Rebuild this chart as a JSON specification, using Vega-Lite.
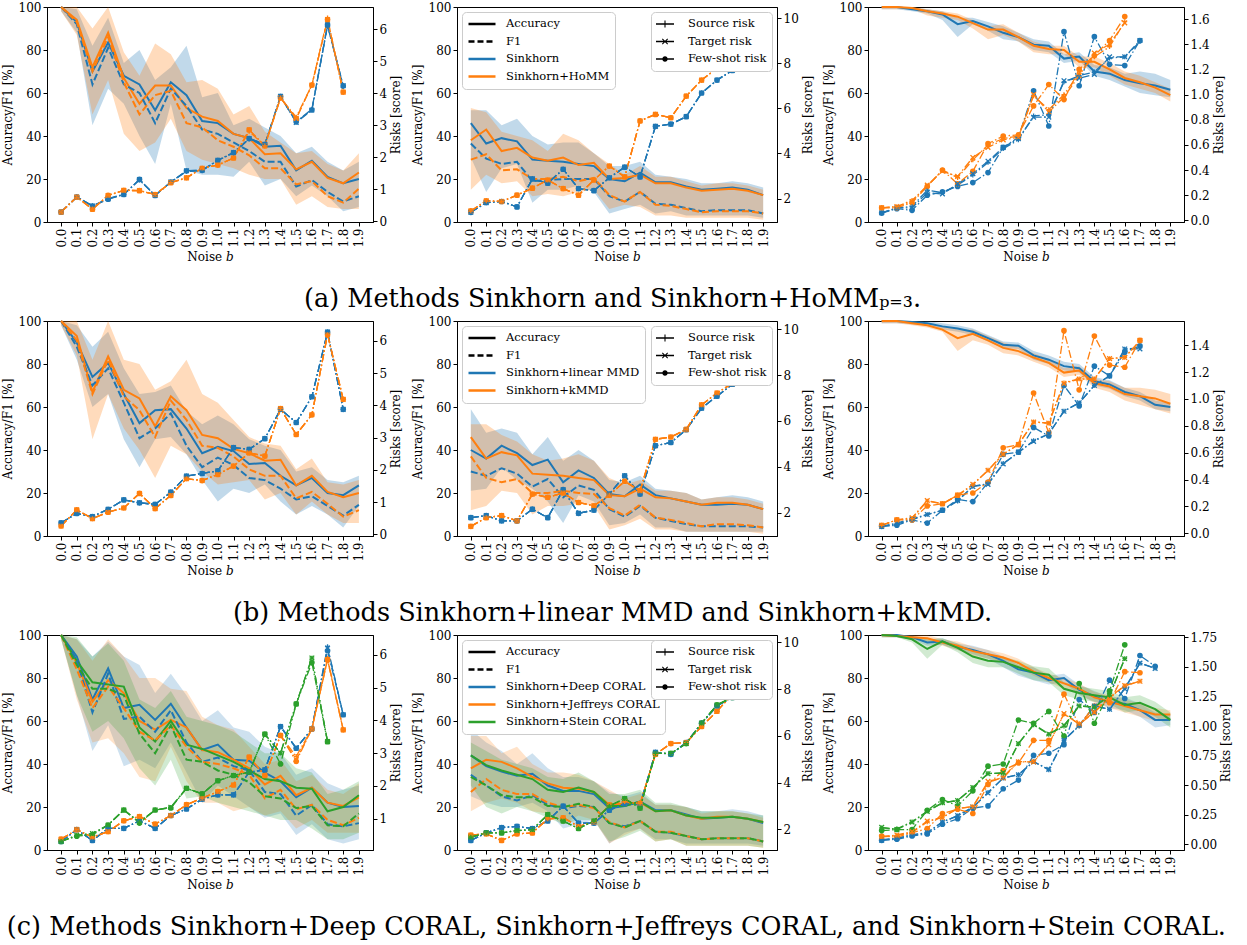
{
"$schema": "https://vega.github.io/schema/vega-lite/v6.json",
"background": "white",
"padding": {"left": 0, "top": 0, "right": 3, "bottom": 0},
"spacing": 1,
"config": {
 "font": "DejaVu Serif",
 "view": {"stroke": "black", "strokeWidth": 1},
 "axis": {"labelFont": "DejaVu Serif", "titleFont": "DejaVu Serif", "labelFontSize": 12, "titleFontSize": 12, "titleFontWeight": "normal", "labelColor": "black", "titleColor": "black", "tickColor": "black", "domainColor": "black", "tickSize": 4, "grid": false, "labelPadding": 2, "titlePadding": 4, "labelFlush": false},
 "title": {"font": "DejaVu Serif", "fontSize": 25.5, "fontWeight": "normal", "color": "black"},
 "legend": {"labelFont": "DejaVu Serif", "labelFontSize": 11.5, "labelColor": "black", "labelLimit": 300}
},
"datasets": {
"a1": [
{"m":"S","b":0,"acc":100,"lo":98,"hi":100,"f1":100,"src":0.28,"tgt":0.28,"few":0.28},
{"m":"S","b":0.1,"acc":93,"lo":88,"hi":99,"f1":92,"src":0.76,"tgt":0.75,"few":0.75},
{"m":"S","b":0.2,"acc":70,"lo":45,"hi":82,"f1":64,"src":0.48,"tgt":0.47,"few":0.47},
{"m":"S","b":0.3,"acc":83.5,"lo":62,"hi":95,"f1":81,"src":0.7,"tgt":0.69,"few":0.68},
{"m":"S","b":0.4,"acc":68,"lo":55,"hi":74,"f1":64,"src":0.84,"tgt":0.83,"few":0.83},
{"m":"S","b":0.5,"acc":64,"lo":40,"hi":80,"f1":60,"src":1.28,"tgt":1.3,"few":1.3},
{"m":"S","b":0.6,"acc":52,"lo":27,"hi":66,"f1":46,"src":0.8,"tgt":0.8,"few":0.8},
{"m":"S","b":0.7,"acc":65,"lo":55,"hi":72,"f1":62,"src":1.22,"tgt":1.22,"few":1.22},
{"m":"S","b":0.8,"acc":59,"lo":24,"hi":82,"f1":54,"src":1.55,"tgt":1.57,"few":1.57},
{"m":"S","b":0.9,"acc":47,"lo":22,"hi":58,"f1":43,"src":1.57,"tgt":1.59,"few":1.59},
{"m":"S","b":1.0,"acc":46,"lo":22,"hi":60,"f1":41,"src":1.9,"tgt":1.9,"few":1.9},
{"m":"S","b":1.1,"acc":41,"lo":21,"hi":45,"f1":37,"src":2.12,"tgt":2.14,"few":2.14},
{"m":"S","b":1.2,"acc":39,"lo":28,"hi":48,"f1":33,"src":2.56,"tgt":2.58,"few":2.58},
{"m":"S","b":1.3,"acc":35,"lo":17,"hi":44,"f1":28,"src":2.4,"tgt":2.4,"few":2.4},
{"m":"S","b":1.4,"acc":35.5,"lo":20,"hi":40,"f1":28,"src":3.88,"tgt":3.9,"few":3.9},
{"m":"S","b":1.5,"acc":24,"lo":12,"hi":32,"f1":16.5,"src":3.1,"tgt":3.08,"few":3.1},
{"m":"S","b":1.6,"acc":28.5,"lo":17,"hi":35,"f1":19.5,"src":3.5,"tgt":3.47,"few":3.47},
{"m":"S","b":1.7,"acc":21,"lo":12,"hi":28,"f1":14,"src":6.1,"tgt":6.13,"few":6.13},
{"m":"S","b":1.8,"acc":18,"lo":5,"hi":24,"f1":9.5,"src":4.2,"tgt":4.23,"few":4.23},
{"m":"S","b":1.9,"acc":20,"lo":7,"hi":28,"f1":12,"src":null,"tgt":null,"few":null},
{"m":"H","b":0,"acc":100,"lo":98,"hi":100,"f1":100,"src":0.28,"tgt":0.28,"few":0.28},
{"m":"H","b":0.1,"acc":94,"lo":87,"hi":100,"f1":93,"src":0.75,"tgt":0.75,"few":0.75},
{"m":"H","b":0.2,"acc":72,"lo":50,"hi":90,"f1":70,"src":0.38,"tgt":0.37,"few":0.37},
{"m":"H","b":0.3,"acc":88,"lo":66,"hi":100,"f1":86,"src":0.8,"tgt":0.8,"few":0.8},
{"m":"H","b":0.4,"acc":67,"lo":41,"hi":79,"f1":65,"src":0.96,"tgt":0.96,"few":0.96},
{"m":"H","b":0.5,"acc":55,"lo":33,"hi":68,"f1":50,"src":0.95,"tgt":0.95,"few":0.95},
{"m":"H","b":0.6,"acc":63.5,"lo":37,"hi":83,"f1":59,"src":0.83,"tgt":0.83,"few":0.83},
{"m":"H","b":0.7,"acc":63.5,"lo":48,"hi":78,"f1":61,"src":1.2,"tgt":1.2,"few":1.2},
{"m":"H","b":0.8,"acc":53,"lo":33,"hi":65,"f1":46,"src":1.36,"tgt":1.35,"few":1.35},
{"m":"H","b":0.9,"acc":49,"lo":29,"hi":66,"f1":44,"src":1.65,"tgt":1.65,"few":1.65},
{"m":"H","b":1.0,"acc":47,"lo":27,"hi":62,"f1":38,"src":1.75,"tgt":1.75,"few":1.75},
{"m":"H","b":1.1,"acc":41,"lo":25,"hi":50,"f1":35,"src":1.97,"tgt":1.97,"few":1.97},
{"m":"H","b":1.2,"acc":39,"lo":22,"hi":54,"f1":31,"src":2.8,"tgt":2.85,"few":2.85},
{"m":"H","b":1.3,"acc":31.5,"lo":20,"hi":42,"f1":25,"src":2.35,"tgt":2.35,"few":2.35},
{"m":"H","b":1.4,"acc":32,"lo":20,"hi":37,"f1":25,"src":3.85,"tgt":3.85,"few":3.85},
{"m":"H","b":1.5,"acc":24.5,"lo":8,"hi":32,"f1":17.5,"src":3.25,"tgt":3.2,"few":3.2},
{"m":"H","b":1.6,"acc":28,"lo":12,"hi":33,"f1":19,"src":4.25,"tgt":4.25,"few":4.25},
{"m":"H","b":1.7,"acc":20.5,"lo":7,"hi":27,"f1":12,"src":6.35,"tgt":6.3,"few":6.3},
{"m":"H","b":1.8,"acc":18,"lo":6,"hi":24,"f1":9,"src":4.03,"tgt":4.03,"few":4.03},
{"m":"H","b":1.9,"acc":23,"lo":6,"hi":32,"f1":15.5,"src":null,"tgt":null,"few":null}
],
"a2": [
{"m":"S","b":0,"acc":46,"lo":30,"hi":52,"f1":36.5,"src":1.39,"tgt":1.39,"few":1.39},
{"m":"S","b":0.1,"acc":36.5,"lo":14,"hi":52,"f1":29.5,"src":1.82,"tgt":1.82,"few":1.82},
{"m":"S","b":0.2,"acc":39,"lo":25,"hi":45,"f1":27,"src":1.87,"tgt":1.87,"few":1.87},
{"m":"S","b":0.3,"acc":37.5,"lo":27,"hi":48,"f1":28,"src":1.63,"tgt":1.63,"few":1.63},
{"m":"S","b":0.4,"acc":29,"lo":9,"hi":40,"f1":19,"src":2.87,"tgt":2.87,"few":2.87},
{"m":"S","b":0.5,"acc":28.5,"lo":15,"hi":36,"f1":19.5,"src":2.68,"tgt":2.68,"few":2.68},
{"m":"S","b":0.6,"acc":28,"lo":15,"hi":37,"f1":20,"src":3.3,"tgt":3.3,"few":3.3},
{"m":"S","b":0.7,"acc":27,"lo":17,"hi":37,"f1":20,"src":2.44,"tgt":2.44,"few":2.44},
{"m":"S","b":0.8,"acc":26,"lo":14,"hi":32,"f1":20,"src":2.35,"tgt":2.35,"few":2.35},
{"m":"S","b":0.9,"acc":20,"lo":4,"hi":26,"f1":12,"src":2.92,"tgt":2.92,"few":2.92},
{"m":"S","b":1.0,"acc":19,"lo":6,"hi":26,"f1":9.5,"src":3.39,"tgt":3.39,"few":3.39},
{"m":"S","b":1.1,"acc":23,"lo":8,"hi":28,"f1":14,"src":2.96,"tgt":2.96,"few":2.96},
{"m":"S","b":1.2,"acc":18.5,"lo":4,"hi":22,"f1":8.5,"src":5.2,"tgt":5.2,"few":5.2},
{"m":"S","b":1.3,"acc":18.5,"lo":5,"hi":21,"f1":8,"src":5.3,"tgt":5.3,"few":5.3},
{"m":"S","b":1.4,"acc":16.5,"lo":3,"hi":20,"f1":6.5,"src":5.63,"tgt":5.63,"few":5.63},
{"m":"S","b":1.5,"acc":15,"lo":3,"hi":18,"f1":5,"src":6.68,"tgt":6.68,"few":6.68},
{"m":"S","b":1.6,"acc":15.5,"lo":3,"hi":18,"f1":5.5,"src":7.25,"tgt":7.25,"few":7.25},
{"m":"S","b":1.7,"acc":16,"lo":3,"hi":19,"f1":5.5,"src":7.68,"tgt":7.68,"few":7.68},
{"m":"S","b":1.8,"acc":15,"lo":3,"hi":18,"f1":5.5,"src":7.97,"tgt":7.97,"few":7.97},
{"m":"S","b":1.9,"acc":12.5,"lo":2,"hi":16,"f1":4,"src":10.02,"tgt":10.02,"few":10.02},
{"m":"H","b":0,"acc":38,"lo":15,"hi":53,"f1":29,"src":1.45,"tgt":1.45,"few":1.45},
{"m":"H","b":0.1,"acc":43,"lo":22,"hi":51,"f1":31.5,"src":1.9,"tgt":1.9,"few":1.9},
{"m":"H","b":0.2,"acc":33,"lo":18,"hi":42,"f1":24,"src":1.87,"tgt":1.87,"few":1.87},
{"m":"H","b":0.3,"acc":34.5,"lo":19,"hi":40,"f1":24.5,"src":2.15,"tgt":2.15,"few":2.15},
{"m":"H","b":0.4,"acc":30,"lo":12,"hi":38,"f1":20,"src":2.46,"tgt":2.46,"few":2.46},
{"m":"H","b":0.5,"acc":28.5,"lo":13,"hi":33,"f1":20,"src":2.82,"tgt":2.82,"few":2.82},
{"m":"H","b":0.6,"acc":30,"lo":12,"hi":41,"f1":21,"src":2.44,"tgt":2.44,"few":2.44},
{"m":"H","b":0.7,"acc":26.5,"lo":14,"hi":38,"f1":19,"src":2.15,"tgt":2.15,"few":2.15},
{"m":"H","b":0.8,"acc":27.5,"lo":15,"hi":32,"f1":20.5,"src":2.82,"tgt":2.82,"few":2.82},
{"m":"H","b":0.9,"acc":20,"lo":6,"hi":27,"f1":12.5,"src":3.44,"tgt":3.44,"few":3.44},
{"m":"H","b":1.0,"acc":20.5,"lo":8,"hi":22,"f1":9.5,"src":2.96,"tgt":2.96,"few":2.96},
{"m":"H","b":1.1,"acc":22,"lo":7,"hi":26,"f1":14,"src":5.44,"tgt":5.44,"few":5.44},
{"m":"H","b":1.2,"acc":18,"lo":3,"hi":21,"f1":8,"src":5.73,"tgt":5.73,"few":5.73},
{"m":"H","b":1.3,"acc":18,"lo":3,"hi":21,"f1":7.5,"src":5.58,"tgt":5.58,"few":5.58},
{"m":"H","b":1.4,"acc":16,"lo":2,"hi":19,"f1":6,"src":6.54,"tgt":6.54,"few":6.54},
{"m":"H","b":1.5,"acc":14.5,"lo":2,"hi":17,"f1":4.5,"src":7.25,"tgt":7.25,"few":7.25},
{"m":"H","b":1.6,"acc":15,"lo":2,"hi":18,"f1":5,"src":7.78,"tgt":7.78,"few":7.78},
{"m":"H","b":1.7,"acc":15.5,"lo":2,"hi":18,"f1":5,"src":8.0,"tgt":8.0,"few":8.0},
{"m":"H","b":1.8,"acc":14.5,"lo":2,"hi":17,"f1":5,"src":10.11,"tgt":10.11,"few":10.11},
{"m":"H","b":1.9,"acc":12.5,"lo":1,"hi":15,"f1":4,"src":null,"tgt":null,"few":null}
],
"a3": [
{"m":"S","b":0,"acc":100,"lo":99,"hi":100,"src":0.06,"tgt":0.06,"few":0.058},
{"m":"S","b":0.1,"acc":100,"lo":99,"hi":100,"src":0.1,"tgt":0.1,"few":0.093},
{"m":"S","b":0.2,"acc":99,"lo":98,"hi":100,"src":0.11,"tgt":0.1,"few":0.08},
{"m":"S","b":0.3,"acc":98,"lo":97,"hi":99,"src":0.24,"tgt":0.22,"few":0.2},
{"m":"S","b":0.4,"acc":96.5,"lo":94,"hi":98,"src":0.22,"tgt":0.21,"few":0.226},
{"m":"S","b":0.5,"acc":92,"lo":86,"hi":95,"src":0.28,"tgt":0.29,"few":0.27},
{"m":"S","b":0.6,"acc":93.5,"lo":92,"hi":95,"src":0.36,"tgt":0.37,"few":0.3},
{"m":"S","b":0.7,"acc":91,"lo":89,"hi":93,"src":0.46,"tgt":0.47,"few":0.38},
{"m":"S","b":0.8,"acc":88,"lo":85,"hi":91,"src":0.57,"tgt":0.58,"few":0.58},
{"m":"S","b":0.9,"acc":86,"lo":84,"hi":88,"src":0.64,"tgt":0.65,"few":0.66},
{"m":"S","b":1.0,"acc":82.5,"lo":80,"hi":85,"src":0.83,"tgt":0.82,"few":1.03},
{"m":"S","b":1.1,"acc":82,"lo":79,"hi":84,"src":0.84,"tgt":0.82,"few":0.75},
{"m":"S","b":1.2,"acc":76,"lo":74,"hi":78,"src":1.1,"tgt":1.11,"few":1.5},
{"m":"S","b":1.3,"acc":77,"lo":75,"hi":79,"src":1.15,"tgt":1.13,"few":1.07},
{"m":"S","b":1.4,"acc":70,"lo":68,"hi":73,"src":1.18,"tgt":1.16,"few":1.46},
{"m":"S","b":1.5,"acc":69,"lo":66,"hi":72,"src":1.29,"tgt":1.3,"few":1.24},
{"m":"S","b":1.6,"acc":66,"lo":63,"hi":69,"src":1.3,"tgt":1.3,"few":1.23},
{"m":"S","b":1.7,"acc":64.5,"lo":60,"hi":70,"src":1.42,"tgt":1.43,"few":1.43},
{"m":"S","b":1.8,"acc":63.5,"lo":59,"hi":69,"src":null,"tgt":null,"few":null},
{"m":"S","b":1.9,"acc":61.5,"lo":58,"hi":66,"src":null,"tgt":null,"few":null},
{"m":"H","b":0,"acc":100,"lo":99,"hi":100,"src":0.1,"tgt":0.1,"few":0.1},
{"m":"H","b":0.1,"acc":100,"lo":99,"hi":100,"src":0.11,"tgt":0.11,"few":0.1},
{"m":"H","b":0.2,"acc":99.5,"lo":99,"hi":100,"src":0.16,"tgt":0.15,"few":0.14},
{"m":"H","b":0.3,"acc":98,"lo":96,"hi":99,"src":0.27,"tgt":0.28,"few":0.27},
{"m":"H","b":0.4,"acc":97,"lo":95,"hi":98,"src":0.4,"tgt":0.39,"few":0.4},
{"m":"H","b":0.5,"acc":95.5,"lo":94,"hi":97,"src":0.34,"tgt":0.35,"few":0.29},
{"m":"H","b":0.6,"acc":92.5,"lo":90,"hi":94,"src":0.48,"tgt":0.5,"few":0.39},
{"m":"H","b":0.7,"acc":89.5,"lo":85,"hi":91,"src":0.6,"tgt":0.58,"few":0.61},
{"m":"H","b":0.8,"acc":89.5,"lo":87,"hi":92,"src":0.65,"tgt":0.64,"few":0.67},
{"m":"H","b":0.9,"acc":86,"lo":84,"hi":88,"src":0.67,"tgt":0.66,"few":0.68},
{"m":"H","b":1.0,"acc":82,"lo":79,"hi":84,"src":0.99,"tgt":1.0,"few":0.91},
{"m":"H","b":1.1,"acc":80.5,"lo":78,"hi":82,"src":0.88,"tgt":0.86,"few":1.08},
{"m":"H","b":1.2,"acc":80,"lo":78,"hi":82,"src":1.0,"tgt":0.98,"few":0.96},
{"m":"H","b":1.3,"acc":74.5,"lo":72,"hi":77,"src":1.17,"tgt":1.15,"few":1.2},
{"m":"H","b":1.4,"acc":74.5,"lo":72,"hi":77,"src":1.3,"tgt":1.33,"few":1.31},
{"m":"H","b":1.5,"acc":71,"lo":68,"hi":74,"src":1.38,"tgt":1.4,"few":1.43},
{"m":"H","b":1.6,"acc":67,"lo":64,"hi":70,"src":1.58,"tgt":1.57,"few":1.62},
{"m":"H","b":1.7,"acc":65,"lo":62,"hi":68,"src":null,"tgt":null,"few":null},
{"m":"H","b":1.8,"acc":62.5,"lo":60,"hi":65,"src":null,"tgt":null,"few":null},
{"m":"H","b":1.9,"acc":59,"lo":56,"hi":62,"src":null,"tgt":null,"few":null}
],
"b1": [
{"m":"L","b":0,"acc":100,"lo":98,"hi":100,"f1":100,"src":0.36,"tgt":0.36,"few":0.36},
{"m":"L","b":0.1,"acc":90,"lo":82,"hi":98,"f1":88,"src":0.65,"tgt":0.65,"few":0.65},
{"m":"L","b":0.2,"acc":74,"lo":60,"hi":88,"f1":70,"src":0.55,"tgt":0.55,"few":0.55},
{"m":"L","b":0.3,"acc":80.5,"lo":66,"hi":95,"f1":78,"src":0.78,"tgt":0.78,"few":0.78},
{"m":"L","b":0.4,"acc":66,"lo":45,"hi":78,"f1":62,"src":1.07,"tgt":1.07,"few":1.07},
{"m":"L","b":0.5,"acc":52.5,"lo":32,"hi":66,"f1":45.5,"src":0.98,"tgt":0.98,"few":0.98},
{"m":"L","b":0.6,"acc":58.5,"lo":45,"hi":67,"f1":50,"src":0.93,"tgt":0.93,"few":0.93},
{"m":"L","b":0.7,"acc":59,"lo":46,"hi":70,"f1":57,"src":1.31,"tgt":1.31,"few":1.31},
{"m":"L","b":0.8,"acc":50,"lo":38,"hi":58,"f1":42,"src":1.81,"tgt":1.81,"few":1.81},
{"m":"L","b":0.9,"acc":38.5,"lo":26,"hi":52,"f1":32,"src":1.89,"tgt":1.89,"few":1.89},
{"m":"L","b":1.0,"acc":41.5,"lo":16,"hi":56,"f1":36.5,"src":1.97,"tgt":1.97,"few":1.97},
{"m":"L","b":1.1,"acc":39.5,"lo":22,"hi":52,"f1":33,"src":2.69,"tgt":2.69,"few":2.69},
{"m":"L","b":1.2,"acc":33.5,"lo":20,"hi":45,"f1":27,"src":2.64,"tgt":2.64,"few":2.64},
{"m":"L","b":1.3,"acc":34,"lo":24,"hi":42,"f1":26,"src":2.97,"tgt":2.97,"few":2.97},
{"m":"L","b":1.4,"acc":28,"lo":16,"hi":40,"f1":22,"src":3.88,"tgt":3.88,"few":3.88},
{"m":"L","b":1.5,"acc":23.5,"lo":10,"hi":30,"f1":17,"src":3.47,"tgt":3.47,"few":3.47},
{"m":"L","b":1.6,"acc":27,"lo":14,"hi":32,"f1":18.5,"src":4.27,"tgt":4.27,"few":4.27},
{"m":"L","b":1.7,"acc":20,"lo":10,"hi":26,"f1":14,"src":6.28,"tgt":6.28,"few":6.28},
{"m":"L","b":1.8,"acc":19,"lo":4,"hi":25,"f1":9.5,"src":3.88,"tgt":3.88,"few":3.88},
{"m":"L","b":1.9,"acc":23.5,"lo":14,"hi":28,"f1":14.5,"src":null,"tgt":null,"few":null},
{"m":"K","b":0,"acc":100,"lo":98,"hi":100,"f1":100,"src":0.26,"tgt":0.26,"few":0.26},
{"m":"K","b":0.1,"acc":93,"lo":84,"hi":100,"f1":91,"src":0.76,"tgt":0.76,"few":0.76},
{"m":"K","b":0.2,"acc":67,"lo":45,"hi":82,"f1":66,"src":0.49,"tgt":0.49,"few":0.49},
{"m":"K","b":0.3,"acc":83.5,"lo":66,"hi":100,"f1":82,"src":0.69,"tgt":0.69,"few":0.69},
{"m":"K","b":0.4,"acc":68,"lo":50,"hi":82,"f1":65,"src":0.82,"tgt":0.82,"few":0.82},
{"m":"K","b":0.5,"acc":64,"lo":40,"hi":80,"f1":58.5,"src":1.27,"tgt":1.27,"few":1.27},
{"m":"K","b":0.6,"acc":51,"lo":27,"hi":68,"f1":46,"src":0.8,"tgt":0.8,"few":0.8},
{"m":"K","b":0.7,"acc":65,"lo":42,"hi":72,"f1":63,"src":1.21,"tgt":1.21,"few":1.21},
{"m":"K","b":0.8,"acc":58.5,"lo":38,"hi":82,"f1":54,"src":1.73,"tgt":1.73,"few":1.73},
{"m":"K","b":0.9,"acc":47,"lo":30,"hi":66,"f1":42,"src":1.67,"tgt":1.67,"few":1.67},
{"m":"K","b":1.0,"acc":45.5,"lo":24,"hi":62,"f1":41,"src":1.86,"tgt":1.86,"few":1.86},
{"m":"K","b":1.1,"acc":40.5,"lo":25,"hi":54,"f1":37,"src":2.12,"tgt":2.12,"few":2.12},
{"m":"K","b":1.2,"acc":38.5,"lo":26,"hi":46,"f1":31,"src":2.53,"tgt":2.53,"few":2.53},
{"m":"K","b":1.3,"acc":35,"lo":17,"hi":43,"f1":28,"src":2.43,"tgt":2.43,"few":2.43},
{"m":"K","b":1.4,"acc":35.5,"lo":20,"hi":42,"f1":28,"src":3.9,"tgt":3.9,"few":3.9},
{"m":"K","b":1.5,"acc":23.5,"lo":10,"hi":31,"f1":17.5,"src":3.1,"tgt":3.1,"few":3.1},
{"m":"K","b":1.6,"acc":28,"lo":16,"hi":36,"f1":20.5,"src":3.71,"tgt":3.71,"few":3.71},
{"m":"K","b":1.7,"acc":20.5,"lo":10,"hi":25,"f1":15,"src":6.2,"tgt":6.2,"few":6.2},
{"m":"K","b":1.8,"acc":18,"lo":6,"hi":24,"f1":9,"src":4.19,"tgt":4.19,"few":4.19},
{"m":"K","b":1.9,"acc":20,"lo":6,"hi":26,"f1":12,"src":null,"tgt":null,"few":null}
],
"b2": [
{"m":"L","b":0,"acc":40,"lo":21,"hi":59,"f1":30,"src":1.78,"tgt":1.78,"few":1.78},
{"m":"L","b":0.1,"acc":36,"lo":22,"hi":48,"f1":28,"src":1.87,"tgt":1.87,"few":1.87},
{"m":"L","b":0.2,"acc":42,"lo":32,"hi":50,"f1":31.5,"src":1.64,"tgt":1.64,"few":1.64},
{"m":"L","b":0.3,"acc":38.5,"lo":26,"hi":48,"f1":29,"src":1.64,"tgt":1.64,"few":1.64},
{"m":"L","b":0.4,"acc":33,"lo":22,"hi":38,"f1":23,"src":2.15,"tgt":2.15,"few":2.15},
{"m":"L","b":0.5,"acc":35.5,"lo":16,"hi":46,"f1":26.5,"src":1.78,"tgt":1.78,"few":1.78},
{"m":"L","b":0.6,"acc":25,"lo":6,"hi":35,"f1":18,"src":3.0,"tgt":3.0,"few":3.0},
{"m":"L","b":0.7,"acc":30.5,"lo":19,"hi":40,"f1":23.5,"src":1.97,"tgt":1.97,"few":1.97},
{"m":"L","b":0.8,"acc":27,"lo":16,"hi":35,"f1":21.5,"src":2.11,"tgt":2.11,"few":2.11},
{"m":"L","b":0.9,"acc":19.5,"lo":5,"hi":26,"f1":12.5,"src":2.81,"tgt":2.81,"few":2.81},
{"m":"L","b":1.0,"acc":18.5,"lo":6,"hi":25,"f1":9,"src":3.61,"tgt":3.61,"few":3.61},
{"m":"L","b":1.1,"acc":24,"lo":10,"hi":28,"f1":14,"src":2.81,"tgt":2.81,"few":2.81},
{"m":"L","b":1.2,"acc":19,"lo":4,"hi":22,"f1":8.5,"src":4.92,"tgt":4.92,"few":4.92},
{"m":"L","b":1.3,"acc":17.5,"lo":4,"hi":21,"f1":7,"src":5.06,"tgt":5.06,"few":5.06},
{"m":"L","b":1.4,"acc":16,"lo":2,"hi":20,"f1":5.5,"src":5.62,"tgt":5.62,"few":5.62},
{"m":"L","b":1.5,"acc":14.5,"lo":2,"hi":17,"f1":4.5,"src":6.56,"tgt":6.56,"few":6.56},
{"m":"L","b":1.6,"acc":14.5,"lo":2,"hi":18,"f1":4.5,"src":7.08,"tgt":7.08,"few":7.08},
{"m":"L","b":1.7,"acc":15,"lo":2,"hi":19,"f1":4.5,"src":7.6,"tgt":7.6,"few":7.6},
{"m":"L","b":1.8,"acc":14.5,"lo":2,"hi":18,"f1":4.5,"src":8.02,"tgt":8.02,"few":8.02},
{"m":"L","b":1.9,"acc":12.5,"lo":2,"hi":16,"f1":4,"src":9.47,"tgt":9.47,"few":9.47},
{"m":"K","b":0,"acc":46,"lo":12,"hi":52,"f1":37,"src":1.4,"tgt":1.4,"few":1.4},
{"m":"K","b":0.1,"acc":36,"lo":14,"hi":52,"f1":27,"src":1.78,"tgt":1.78,"few":1.78},
{"m":"K","b":0.2,"acc":39,"lo":21,"hi":47,"f1":25,"src":1.87,"tgt":1.87,"few":1.87},
{"m":"K","b":0.3,"acc":37.5,"lo":20,"hi":44,"f1":26.5,"src":1.64,"tgt":1.64,"few":1.64},
{"m":"K","b":0.4,"acc":29,"lo":10,"hi":38,"f1":20,"src":2.81,"tgt":2.81,"few":2.81},
{"m":"K","b":0.5,"acc":28.5,"lo":14,"hi":35,"f1":20,"src":2.67,"tgt":2.67,"few":2.67},
{"m":"K","b":0.6,"acc":28,"lo":14,"hi":36,"f1":21,"src":2.86,"tgt":2.86,"few":2.86},
{"m":"K","b":0.7,"acc":27,"lo":15,"hi":38,"f1":20,"src":2.44,"tgt":2.44,"few":2.44},
{"m":"K","b":0.8,"acc":26,"lo":14,"hi":35,"f1":19.5,"src":2.3,"tgt":2.3,"few":2.3},
{"m":"K","b":0.9,"acc":19,"lo":3,"hi":27,"f1":13,"src":2.76,"tgt":2.76,"few":2.76},
{"m":"K","b":1.0,"acc":18.5,"lo":5,"hi":24,"f1":9.5,"src":3.37,"tgt":3.37,"few":3.37},
{"m":"K","b":1.1,"acc":22,"lo":8,"hi":26,"f1":14.5,"src":2.95,"tgt":2.95,"few":2.95},
{"m":"K","b":1.2,"acc":18,"lo":3,"hi":21,"f1":8.5,"src":5.2,"tgt":5.2,"few":5.2},
{"m":"K","b":1.3,"acc":17.5,"lo":3,"hi":21,"f1":7.5,"src":5.3,"tgt":5.3,"few":5.3},
{"m":"K","b":1.4,"acc":16,"lo":2,"hi":20,"f1":6,"src":5.63,"tgt":5.63,"few":5.63},
{"m":"K","b":1.5,"acc":14.5,"lo":2,"hi":17,"f1":4.5,"src":6.7,"tgt":6.7,"few":6.7},
{"m":"K","b":1.6,"acc":15.5,"lo":2,"hi":18,"f1":5.5,"src":7.22,"tgt":7.22,"few":7.22},
{"m":"K","b":1.7,"acc":15.5,"lo":2,"hi":18,"f1":5.5,"src":7.64,"tgt":7.64,"few":7.64},
{"m":"K","b":1.8,"acc":14.5,"lo":2,"hi":17,"f1":5,"src":7.92,"tgt":7.92,"few":7.92},
{"m":"K","b":1.9,"acc":12.5,"lo":1,"hi":15,"f1":4,"src":9.94,"tgt":9.94,"few":9.94}
],
"b3": [
{"m":"L","b":0,"acc":100,"lo":99,"hi":100,"src":0.05,"tgt":0.052,"few":0.052},
{"m":"L","b":0.1,"acc":100,"lo":99,"hi":100,"src":0.07,"tgt":0.076,"few":0.06},
{"m":"L","b":0.2,"acc":99.5,"lo":98.5,"hi":100,"src":0.1,"tgt":0.108,"few":0.1},
{"m":"L","b":0.3,"acc":99,"lo":98,"hi":100,"src":0.14,"tgt":0.14,"few":0.076},
{"m":"L","b":0.4,"acc":97.5,"lo":96,"hi":99,"src":0.17,"tgt":0.172,"few":0.172},
{"m":"L","b":0.5,"acc":96.5,"lo":95,"hi":98,"src":0.24,"tgt":0.244,"few":0.252},
{"m":"L","b":0.6,"acc":95,"lo":93.5,"hi":96.5,"src":0.35,"tgt":0.348,"few":0.236},
{"m":"L","b":0.7,"acc":92,"lo":90.5,"hi":93.5,"src":0.37,"tgt":0.364,"few":0.38},
{"m":"L","b":0.8,"acc":89,"lo":87.5,"hi":90.5,"src":0.52,"tgt":0.516,"few":0.588},
{"m":"L","b":0.9,"acc":88.5,"lo":87,"hi":90,"src":0.6,"tgt":0.604,"few":0.604},
{"m":"L","b":1.0,"acc":84,"lo":82,"hi":86,"src":0.69,"tgt":0.684,"few":0.788},
{"m":"L","b":1.1,"acc":82,"lo":80,"hi":84,"src":0.74,"tgt":0.74,"few":0.724},
{"m":"L","b":1.2,"acc":79,"lo":77,"hi":81,"src":0.91,"tgt":0.908,"few":1.1},
{"m":"L","b":1.3,"acc":78,"lo":76,"hi":80,"src":0.97,"tgt":0.972,"few":0.948},
{"m":"L","b":1.4,"acc":72,"lo":70,"hi":74,"src":1.1,"tgt":1.1,"few":1.244},
{"m":"L","b":1.5,"acc":70.5,"lo":68.5,"hi":72.5,"src":1.17,"tgt":1.172,"few":1.172},
{"m":"L","b":1.6,"acc":67,"lo":65,"hi":69,"src":1.37,"tgt":1.372,"few":1.348},
{"m":"L","b":1.7,"acc":65,"lo":63,"hi":67,"src":1.38,"tgt":1.372,"few":1.396},
{"m":"L","b":1.8,"acc":61,"lo":59,"hi":63,"src":null,"tgt":null,"few":null},
{"m":"L","b":1.9,"acc":60,"lo":58,"hi":62,"src":null,"tgt":null,"few":null},
{"m":"K","b":0,"acc":100,"lo":99,"hi":100,"src":0.06,"tgt":0.06,"few":0.06},
{"m":"K","b":0.1,"acc":100,"lo":99,"hi":100,"src":0.1,"tgt":0.1,"few":0.1},
{"m":"K","b":0.2,"acc":99,"lo":98,"hi":100,"src":0.11,"tgt":0.116,"few":0.1},
{"m":"K","b":0.3,"acc":98,"lo":97,"hi":99,"src":0.24,"tgt":0.244,"few":0.204},
{"m":"K","b":0.4,"acc":96,"lo":95,"hi":97.5,"src":0.22,"tgt":0.22,"few":0.22},
{"m":"K","b":0.5,"acc":92,"lo":86,"hi":96,"src":0.28,"tgt":0.284,"few":0.284},
{"m":"K","b":0.6,"acc":94,"lo":91,"hi":96,"src":0.36,"tgt":0.364,"few":0.3},
{"m":"K","b":0.7,"acc":91,"lo":89,"hi":93,"src":0.47,"tgt":0.468,"few":0.38},
{"m":"K","b":0.8,"acc":87.5,"lo":85,"hi":90,"src":0.59,"tgt":0.588,"few":0.636},
{"m":"K","b":0.9,"acc":86,"lo":84,"hi":88,"src":0.66,"tgt":0.66,"few":0.66},
{"m":"K","b":1.0,"acc":83,"lo":81,"hi":85,"src":0.83,"tgt":0.828,"few":1.044},
{"m":"K","b":1.1,"acc":80.5,"lo":78.5,"hi":82.5,"src":0.82,"tgt":0.82,"few":0.748},
{"m":"K","b":1.2,"acc":76,"lo":74,"hi":78,"src":1.12,"tgt":1.116,"few":1.508},
{"m":"K","b":1.3,"acc":77,"lo":75,"hi":79,"src":1.15,"tgt":1.148,"few":1.068},
{"m":"K","b":1.4,"acc":71,"lo":69,"hi":73,"src":1.15,"tgt":1.148,"few":1.468},
{"m":"K","b":1.5,"acc":69.5,"lo":67,"hi":72,"src":1.3,"tgt":1.3,"few":1.252},
{"m":"K","b":1.6,"acc":66,"lo":63,"hi":69,"src":1.31,"tgt":1.308,"few":1.236},
{"m":"K","b":1.7,"acc":65,"lo":61,"hi":69,"src":1.43,"tgt":1.436,"few":1.436},
{"m":"K","b":1.8,"acc":64,"lo":59,"hi":68,"src":null,"tgt":null,"few":null},
{"m":"K","b":1.9,"acc":61.5,"lo":57,"hi":66,"src":null,"tgt":null,"few":null}
],
"c1": [
{"m":"D","b":0,"acc":100,"lo":98,"hi":100,"f1":100,"src":0.31,"tgt":0.31,"few":0.31},
{"m":"D","b":0.1,"acc":90,"lo":72,"hi":98,"f1":88,"src":0.67,"tgt":0.67,"few":0.67},
{"m":"D","b":0.2,"acc":70,"lo":46,"hi":90,"f1":64,"src":0.34,"tgt":0.34,"few":0.34},
{"m":"D","b":0.3,"acc":84.5,"lo":58,"hi":97,"f1":82,"src":0.71,"tgt":0.71,"few":0.71},
{"m":"D","b":0.4,"acc":66,"lo":39,"hi":90,"f1":61,"src":0.71,"tgt":0.71,"few":0.71},
{"m":"D","b":0.5,"acc":67.5,"lo":42,"hi":86,"f1":62,"src":0.94,"tgt":0.94,"few":0.94},
{"m":"D","b":0.6,"acc":60.5,"lo":38,"hi":73,"f1":55,"src":0.71,"tgt":0.71,"few":0.71},
{"m":"D","b":0.7,"acc":68,"lo":50,"hi":82,"f1":65,"src":1.1,"tgt":1.1,"few":1.1},
{"m":"D","b":0.8,"acc":57,"lo":36,"hi":72,"f1":50,"src":1.3,"tgt":1.3,"few":1.3},
{"m":"D","b":0.9,"acc":46.5,"lo":22,"hi":60,"f1":41,"src":1.6,"tgt":1.6,"few":1.6},
{"m":"D","b":1.0,"acc":49,"lo":30,"hi":65,"f1":43,"src":1.73,"tgt":1.73,"few":1.73},
{"m":"D","b":1.1,"acc":42,"lo":25,"hi":57,"f1":39,"src":1.73,"tgt":1.73,"few":1.73},
{"m":"D","b":1.2,"acc":41.5,"lo":20,"hi":55,"f1":37,"src":2.42,"tgt":2.42,"few":2.42},
{"m":"D","b":1.3,"acc":36,"lo":15,"hi":48,"f1":27,"src":2.49,"tgt":2.49,"few":2.49},
{"m":"D","b":1.4,"acc":32,"lo":17,"hi":45,"f1":26,"src":3.81,"tgt":3.81,"few":3.81},
{"m":"D","b":1.5,"acc":24.5,"lo":7,"hi":35,"f1":16,"src":3.15,"tgt":3.15,"few":3.15},
{"m":"D","b":1.6,"acc":29,"lo":12,"hi":38,"f1":21,"src":3.74,"tgt":3.74,"few":3.74},
{"m":"D","b":1.7,"acc":22,"lo":5,"hi":31,"f1":12,"src":6.25,"tgt":6.2,"few":6.12},
{"m":"D","b":1.8,"acc":20,"lo":3,"hi":28,"f1":11,"src":4.17,"tgt":4.17,"few":4.17},
{"m":"D","b":1.9,"acc":20.5,"lo":5,"hi":30,"f1":12.5,"src":null,"tgt":null,"few":null},
{"m":"J","b":0,"acc":100,"lo":98,"hi":100,"f1":100,"src":0.38,"tgt":0.38,"few":0.38},
{"m":"J","b":0.1,"acc":87,"lo":70,"hi":98,"f1":84,"src":0.67,"tgt":0.67,"few":0.67},
{"m":"J","b":0.2,"acc":69,"lo":50,"hi":88,"f1":66,"src":0.44,"tgt":0.44,"few":0.44},
{"m":"J","b":0.3,"acc":79,"lo":52,"hi":98,"f1":76,"src":0.61,"tgt":0.61,"few":0.61},
{"m":"J","b":0.4,"acc":73,"lo":45,"hi":90,"f1":66,"src":0.94,"tgt":0.94,"few":0.94},
{"m":"J","b":0.5,"acc":60,"lo":34,"hi":80,"f1":55,"src":1.07,"tgt":1.07,"few":1.07},
{"m":"J","b":0.6,"acc":56,"lo":32,"hi":80,"f1":51,"src":0.84,"tgt":0.84,"few":0.84},
{"m":"J","b":0.7,"acc":60.5,"lo":48,"hi":75,"f1":58,"src":1.1,"tgt":1.1,"few":1.1},
{"m":"J","b":0.8,"acc":57,"lo":32,"hi":74,"f1":48,"src":1.43,"tgt":1.43,"few":1.43},
{"m":"J","b":0.9,"acc":46.5,"lo":22,"hi":62,"f1":41,"src":1.63,"tgt":1.63,"few":1.63},
{"m":"J","b":1.0,"acc":45.5,"lo":22,"hi":58,"f1":40,"src":1.83,"tgt":1.83,"few":1.83},
{"m":"J","b":1.1,"acc":42,"lo":18,"hi":56,"f1":38,"src":2.03,"tgt":2.03,"few":2.03},
{"m":"J","b":1.2,"acc":38,"lo":20,"hi":48,"f1":35,"src":2.88,"tgt":2.88,"few":2.88},
{"m":"J","b":1.3,"acc":30.5,"lo":16,"hi":40,"f1":24,"src":2.32,"tgt":2.32,"few":2.32},
{"m":"J","b":1.4,"acc":34.5,"lo":18,"hi":42,"f1":28,"src":3.54,"tgt":3.54,"few":3.54},
{"m":"J","b":1.5,"acc":25.5,"lo":10,"hi":32,"f1":19,"src":2.9,"tgt":2.8,"few":2.75},
{"m":"J","b":1.6,"acc":29,"lo":14,"hi":35,"f1":21,"src":3.74,"tgt":3.74,"few":3.74},
{"m":"J","b":1.7,"acc":22,"lo":8,"hi":28,"f1":14,"src":5.9,"tgt":5.85,"few":5.85},
{"m":"J","b":1.8,"acc":20.5,"lo":8,"hi":26,"f1":11.5,"src":3.71,"tgt":3.71,"few":3.71},
{"m":"J","b":1.9,"acc":24.5,"lo":8,"hi":31,"f1":15,"src":null,"tgt":null,"few":null},
{"m":"T","b":0,"acc":100,"lo":98,"hi":100,"f1":100,"src":0.31,"tgt":0.31,"few":0.31},
{"m":"T","b":0.1,"acc":88,"lo":72,"hi":99,"f1":86,"src":0.5,"tgt":0.5,"few":0.47},
{"m":"T","b":0.2,"acc":78,"lo":55,"hi":90,"f1":75,"src":0.55,"tgt":0.55,"few":0.51},
{"m":"T","b":0.3,"acc":77,"lo":60,"hi":96,"f1":75,"src":0.81,"tgt":0.81,"few":0.81},
{"m":"T","b":0.4,"acc":76,"lo":52,"hi":88,"f1":72,"src":1.27,"tgt":1.27,"few":1.27},
{"m":"T","b":0.5,"acc":57,"lo":38,"hi":70,"f1":54,"src":0.9,"tgt":0.9,"few":0.87},
{"m":"T","b":0.6,"acc":50.5,"lo":30,"hi":66,"f1":45,"src":1.27,"tgt":1.27,"few":1.27},
{"m":"T","b":0.7,"acc":60,"lo":42,"hi":74,"f1":58,"src":1.35,"tgt":1.35,"few":1.33},
{"m":"T","b":0.8,"acc":49,"lo":24,"hi":62,"f1":42,"src":1.93,"tgt":1.93,"few":1.93},
{"m":"T","b":0.9,"acc":47,"lo":25,"hi":60,"f1":41,"src":1.76,"tgt":1.76,"few":1.76},
{"m":"T","b":1.0,"acc":44,"lo":22,"hi":58,"f1":37,"src":2.16,"tgt":2.16,"few":2.16},
{"m":"T","b":1.1,"acc":41,"lo":20,"hi":55,"f1":35,"src":2.32,"tgt":2.32,"few":2.32},
{"m":"T","b":1.2,"acc":37,"lo":18,"hi":50,"f1":31.5,"src":2.42,"tgt":2.42,"few":2.42},
{"m":"T","b":1.3,"acc":33,"lo":16,"hi":45,"f1":25,"src":3.58,"tgt":3.58,"few":3.58},
{"m":"T","b":1.4,"acc":32,"lo":14,"hi":45,"f1":24,"src":3.0,"tgt":3.0,"few":2.67},
{"m":"T","b":1.5,"acc":29,"lo":14,"hi":38,"f1":19.5,"src":4.5,"tgt":4.5,"few":4.5},
{"m":"T","b":1.6,"acc":28.5,"lo":10,"hi":36,"f1":20.5,"src":5.9,"tgt":5.9,"few":5.76},
{"m":"T","b":1.7,"acc":18,"lo":5,"hi":26,"f1":11.5,"src":3.35,"tgt":3.35,"few":3.35},
{"m":"T","b":1.8,"acc":20,"lo":5,"hi":28,"f1":11,"src":null,"tgt":null,"few":null},
{"m":"T","b":1.9,"acc":25.5,"lo":8,"hi":32,"f1":17,"src":null,"tgt":null,"few":null}
],
"c2": [
{"m":"D","b":0,"acc":44,"lo":25,"hi":56,"f1":35,"src":1.53,"tgt":1.53,"few":1.53},
{"m":"D","b":0.1,"acc":39,"lo":22,"hi":50,"f1":30,"src":1.85,"tgt":1.85,"few":1.85},
{"m":"D","b":0.2,"acc":36.5,"lo":20,"hi":46,"f1":25,"src":2.08,"tgt":2.08,"few":2.08},
{"m":"D","b":0.3,"acc":34.5,"lo":20,"hi":40,"f1":23,"src":2.13,"tgt":2.13,"few":2.13},
{"m":"D","b":0.4,"acc":35.5,"lo":22,"hi":45,"f1":25.5,"src":2.04,"tgt":2.04,"few":2.04},
{"m":"D","b":0.5,"acc":30,"lo":18,"hi":38,"f1":21,"src":2.36,"tgt":2.36,"few":2.36},
{"m":"D","b":0.6,"acc":27.5,"lo":10,"hi":34,"f1":19.5,"src":3.0,"tgt":3.0,"few":3.0},
{"m":"D","b":0.7,"acc":27.5,"lo":12,"hi":34,"f1":20.5,"src":2.27,"tgt":2.27,"few":2.27},
{"m":"D","b":0.8,"acc":26,"lo":14,"hi":32,"f1":20,"src":2.27,"tgt":2.27,"few":2.27},
{"m":"D","b":0.9,"acc":19.5,"lo":3,"hi":27,"f1":12.5,"src":2.82,"tgt":2.82,"few":2.82},
{"m":"D","b":1.0,"acc":20.5,"lo":8,"hi":25,"f1":11,"src":3.1,"tgt":3.1,"few":3.1},
{"m":"D","b":1.1,"acc":22.5,"lo":10,"hi":27,"f1":13.5,"src":3.05,"tgt":3.05,"few":3.05},
{"m":"D","b":1.2,"acc":18.5,"lo":5,"hi":21,"f1":8.5,"src":5.3,"tgt":5.3,"few":5.3},
{"m":"D","b":1.3,"acc":18.5,"lo":5,"hi":21,"f1":8,"src":5.21,"tgt":5.21,"few":5.21},
{"m":"D","b":1.4,"acc":16.5,"lo":3,"hi":20,"f1":6.5,"src":5.71,"tgt":5.71,"few":5.71},
{"m":"D","b":1.5,"acc":14.5,"lo":3,"hi":18,"f1":5,"src":6.54,"tgt":6.54,"few":6.54},
{"m":"D","b":1.6,"acc":15,"lo":3,"hi":18,"f1":5.5,"src":7.28,"tgt":7.28,"few":7.28},
{"m":"D","b":1.7,"acc":15.5,"lo":3,"hi":19,"f1":5.5,"src":7.64,"tgt":7.64,"few":7.64},
{"m":"D","b":1.8,"acc":14.5,"lo":3,"hi":18,"f1":5.5,"src":7.97,"tgt":7.97,"few":7.97},
{"m":"D","b":1.9,"acc":12.5,"lo":2,"hi":16,"f1":4,"src":9.76,"tgt":9.76,"few":9.76},
{"m":"J","b":0,"acc":38,"lo":18,"hi":53,"f1":27,"src":1.76,"tgt":1.76,"few":1.76},
{"m":"J","b":0.1,"acc":42,"lo":22,"hi":53,"f1":33,"src":1.81,"tgt":1.81,"few":1.81},
{"m":"J","b":0.2,"acc":41,"lo":24,"hi":45,"f1":28,"src":1.53,"tgt":1.53,"few":1.53},
{"m":"J","b":0.3,"acc":38,"lo":22,"hi":48,"f1":26,"src":1.81,"tgt":1.81,"few":1.81},
{"m":"J","b":0.4,"acc":34,"lo":18,"hi":40,"f1":26,"src":1.85,"tgt":1.85,"few":1.85},
{"m":"J","b":0.5,"acc":31,"lo":17,"hi":36,"f1":22,"src":2.45,"tgt":2.45,"few":2.45},
{"m":"J","b":0.6,"acc":29,"lo":12,"hi":36,"f1":20,"src":2.5,"tgt":2.5,"few":2.5},
{"m":"J","b":0.7,"acc":28.5,"lo":16,"hi":35,"f1":21,"src":2.13,"tgt":2.13,"few":2.13},
{"m":"J","b":0.8,"acc":27,"lo":14,"hi":32,"f1":19.5,"src":2.31,"tgt":2.31,"few":2.31},
{"m":"J","b":0.9,"acc":21,"lo":3,"hi":28,"f1":13,"src":3.05,"tgt":3.05,"few":3.05},
{"m":"J","b":1.0,"acc":21.5,"lo":7,"hi":24,"f1":10.5,"src":3.19,"tgt":3.19,"few":3.19},
{"m":"J","b":1.1,"acc":22,"lo":10,"hi":26,"f1":13.5,"src":3.1,"tgt":3.1,"few":3.1},
{"m":"J","b":1.2,"acc":18,"lo":4,"hi":21,"f1":8.5,"src":5.21,"tgt":5.21,"few":5.21},
{"m":"J","b":1.3,"acc":18.5,"lo":5,"hi":21,"f1":8.5,"src":5.67,"tgt":5.67,"few":5.67},
{"m":"J","b":1.4,"acc":16,"lo":2,"hi":20,"f1":6.5,"src":5.71,"tgt":5.71,"few":5.71},
{"m":"J","b":1.5,"acc":14.5,"lo":2,"hi":17,"f1":5,"src":6.4,"tgt":6.4,"few":6.4},
{"m":"J","b":1.6,"acc":15.5,"lo":2,"hi":18,"f1":5.5,"src":7.05,"tgt":7.05,"few":7.05},
{"m":"J","b":1.7,"acc":15.5,"lo":2,"hi":18,"f1":5.5,"src":7.78,"tgt":7.78,"few":7.78},
{"m":"J","b":1.8,"acc":14.5,"lo":2,"hi":17,"f1":5.5,"src":8.01,"tgt":8.01,"few":8.01},
{"m":"J","b":1.9,"acc":13,"lo":1,"hi":15,"f1":4,"src":9.9,"tgt":9.9,"few":9.9},
{"m":"T","b":0,"acc":44,"lo":30,"hi":50,"f1":34,"src":1.67,"tgt":1.67,"few":1.67},
{"m":"T","b":0.1,"acc":39.5,"lo":20,"hi":46,"f1":30,"src":1.85,"tgt":1.85,"few":1.85},
{"m":"T","b":0.2,"acc":37,"lo":17,"hi":42,"f1":25.5,"src":1.85,"tgt":1.85,"few":1.85},
{"m":"T","b":0.3,"acc":35,"lo":20,"hi":40,"f1":24.5,"src":1.95,"tgt":1.95,"few":1.95},
{"m":"T","b":0.4,"acc":33,"lo":18,"hi":38,"f1":24.5,"src":1.99,"tgt":1.99,"few":1.99},
{"m":"T","b":0.5,"acc":28,"lo":15,"hi":34,"f1":20.5,"src":2.63,"tgt":2.63,"few":2.63},
{"m":"T","b":0.6,"acc":27,"lo":12,"hi":33,"f1":20,"src":2.36,"tgt":2.36,"few":2.36},
{"m":"T","b":0.7,"acc":29,"lo":14,"hi":36,"f1":21.5,"src":2.04,"tgt":2.04,"few":2.04},
{"m":"T","b":0.8,"acc":27,"lo":14,"hi":32,"f1":20,"src":2.36,"tgt":2.36,"few":2.36},
{"m":"T","b":0.9,"acc":20.5,"lo":4,"hi":26,"f1":12.5,"src":3.0,"tgt":3.0,"few":3.0},
{"m":"T","b":1.0,"acc":20.5,"lo":6,"hi":26,"f1":10.5,"src":3.32,"tgt":3.32,"few":3.32},
{"m":"T","b":1.1,"acc":22.5,"lo":9,"hi":28,"f1":13.5,"src":2.91,"tgt":2.91,"few":2.91},
{"m":"T","b":1.2,"acc":18,"lo":4,"hi":22,"f1":8.5,"src":5.25,"tgt":5.25,"few":5.25},
{"m":"T","b":1.3,"acc":18.5,"lo":5,"hi":22,"f1":8,"src":5.25,"tgt":5.25,"few":5.25},
{"m":"T","b":1.4,"acc":16,"lo":2,"hi":20,"f1":6.5,"src":5.67,"tgt":5.67,"few":5.67},
{"m":"T","b":1.5,"acc":15,"lo":2,"hi":18,"f1":5,"src":6.54,"tgt":6.54,"few":6.54},
{"m":"T","b":1.6,"acc":15,"lo":2,"hi":18,"f1":5.5,"src":7.32,"tgt":7.32,"few":7.32},
{"m":"T","b":1.7,"acc":15.5,"lo":2,"hi":18,"f1":5.5,"src":7.64,"tgt":7.64,"few":7.64},
{"m":"T","b":1.8,"acc":14.5,"lo":2,"hi":17,"f1":5.5,"src":7.97,"tgt":7.97,"few":7.97},
{"m":"T","b":1.9,"acc":13,"lo":1,"hi":16,"f1":4,"src":9.76,"tgt":9.76,"few":9.76}
],
"c3": [
{"m":"D","b":0,"acc":100,"lo":99,"hi":100,"src":0.04,"tgt":0.034,"few":0.034},
{"m":"D","b":0.1,"acc":100,"lo":99,"hi":100,"src":0.05,"tgt":0.052,"few":0.043},
{"m":"D","b":0.2,"acc":99,"lo":98,"hi":100,"src":0.08,"tgt":0.079,"few":0.07},
{"m":"D","b":0.3,"acc":96.5,"lo":95,"hi":98,"src":0.1,"tgt":0.097,"few":0.088},
{"m":"D","b":0.4,"acc":97,"lo":95.5,"hi":98.5,"src":0.19,"tgt":0.188,"few":0.17},
{"m":"D","b":0.5,"acc":94.5,"lo":93,"hi":96,"src":0.24,"tgt":0.243,"few":0.216},
{"m":"D","b":0.6,"acc":93,"lo":91,"hi":95,"src":0.31,"tgt":0.316,"few":0.306},
{"m":"D","b":0.7,"acc":91,"lo":89,"hi":93,"src":0.44,"tgt":0.434,"few":0.325},
{"m":"D","b":0.8,"acc":88,"lo":85,"hi":90,"src":0.56,"tgt":0.561,"few":0.47},
{"m":"D","b":0.9,"acc":84,"lo":81,"hi":86,"src":0.59,"tgt":0.588,"few":0.543},
{"m":"D","b":1.0,"acc":82.5,"lo":79,"hi":85,"src":0.7,"tgt":0.697,"few":0.752},
{"m":"D","b":1.1,"acc":79,"lo":77,"hi":81,"src":0.63,"tgt":0.634,"few":0.77},
{"m":"D","b":1.2,"acc":80,"lo":78,"hi":82,"src":0.88,"tgt":0.879,"few":0.843},
{"m":"D","b":1.3,"acc":74.5,"lo":72,"hi":77,"src":1.0,"tgt":1.006,"few":1.224},
{"m":"D","b":1.4,"acc":71.5,"lo":69,"hi":74,"src":1.17,"tgt":1.17,"few":1.115},
{"m":"D","b":1.5,"acc":68.5,"lo":66,"hi":71,"src":1.14,"tgt":1.142,"few":1.388},
{"m":"D","b":1.6,"acc":68,"lo":65,"hi":71,"src":1.32,"tgt":1.315,"few":1.233},
{"m":"D","b":1.7,"acc":65,"lo":62,"hi":68,"src":1.53,"tgt":1.533,"few":1.597},
{"m":"D","b":1.8,"acc":60.5,"lo":57,"hi":64,"src":1.49,"tgt":1.488,"few":1.506},
{"m":"D","b":1.9,"acc":60.5,"lo":58,"hi":63,"src":null,"tgt":null,"few":null},
{"m":"J","b":0,"acc":100,"lo":99,"hi":100,"src":0.065,"tgt":0.061,"few":0.07},
{"m":"J","b":0.1,"acc":99.5,"lo":99,"hi":100,"src":0.075,"tgt":0.079,"few":0.061},
{"m":"J","b":0.2,"acc":99,"lo":98,"hi":100,"src":0.1,"tgt":0.107,"few":0.097},
{"m":"J","b":0.3,"acc":98.5,"lo":97,"hi":100,"src":0.19,"tgt":0.197,"few":0.134},
{"m":"J","b":0.4,"acc":96.5,"lo":95,"hi":98,"src":0.23,"tgt":0.225,"few":0.261},
{"m":"J","b":0.5,"acc":95,"lo":93,"hi":97,"src":0.3,"tgt":0.306,"few":0.297},
{"m":"J","b":0.6,"acc":92.5,"lo":90.5,"hi":94.5,"src":0.32,"tgt":0.316,"few":0.261},
{"m":"J","b":0.7,"acc":91,"lo":89,"hi":93,"src":0.52,"tgt":0.533,"few":0.506},
{"m":"J","b":0.8,"acc":89.5,"lo":87.5,"hi":91.5,"src":0.57,"tgt":0.561,"few":0.624},
{"m":"J","b":0.9,"acc":87,"lo":85,"hi":89,"src":0.7,"tgt":0.697,"few":0.688},
{"m":"J","b":1.0,"acc":83,"lo":81,"hi":85,"src":0.7,"tgt":0.697,"few":0.879},
{"m":"J","b":1.1,"acc":80,"lo":78,"hi":82,"src":0.85,"tgt":0.842,"few":0.879},
{"m":"J","b":1.2,"acc":77.5,"lo":75,"hi":80,"src":1.1,"tgt":1.106,"few":1.27},
{"m":"J","b":1.3,"acc":75,"lo":72.5,"hi":77.5,"src":1.02,"tgt":1.015,"few":1.006},
{"m":"J","b":1.4,"acc":71,"lo":68.5,"hi":73.5,"src":1.12,"tgt":1.115,"few":1.17},
{"m":"J","b":1.5,"acc":69,"lo":66,"hi":72,"src":1.24,"tgt":1.242,"few":1.197},
{"m":"J","b":1.6,"acc":67,"lo":64,"hi":70,"src":1.34,"tgt":1.342,"few":1.46},
{"m":"J","b":1.7,"acc":65,"lo":62,"hi":68,"src":1.38,"tgt":1.379,"few":1.451},
{"m":"J","b":1.8,"acc":63,"lo":60,"hi":66,"src":null,"tgt":null,"few":null},
{"m":"J","b":1.9,"acc":63,"lo":61,"hi":65,"src":null,"tgt":null,"few":null},
{"m":"T","b":0,"acc":100,"lo":99,"hi":100,"src":0.14,"tgt":0.143,"few":0.116},
{"m":"T","b":0.1,"acc":99.5,"lo":99,"hi":100,"src":0.13,"tgt":0.125,"few":0.125},
{"m":"T","b":0.2,"acc":98,"lo":96.5,"hi":99.5,"src":0.19,"tgt":0.188,"few":0.125},
{"m":"T","b":0.3,"acc":93.5,"lo":89,"hi":98,"src":0.28,"tgt":0.279,"few":0.288},
{"m":"T","b":0.4,"acc":97,"lo":95.5,"hi":98.5,"src":0.35,"tgt":0.352,"few":0.379},
{"m":"T","b":0.5,"acc":94,"lo":92,"hi":96,"src":0.37,"tgt":0.37,"few":0.325},
{"m":"T","b":0.6,"acc":90,"lo":87,"hi":93,"src":0.48,"tgt":0.479,"few":0.452},
{"m":"T","b":0.7,"acc":88,"lo":85,"hi":91,"src":0.6,"tgt":0.597,"few":0.661},
{"m":"T","b":0.8,"acc":87.5,"lo":85,"hi":90,"src":0.6,"tgt":0.606,"few":0.679},
{"m":"T","b":0.9,"acc":85,"lo":82,"hi":88,"src":0.85,"tgt":0.852,"few":1.051},
{"m":"T","b":1.0,"acc":82.5,"lo":79,"hi":85.5,"src":1.01,"tgt":1.015,"few":1.024},
{"m":"T","b":1.1,"acc":81.5,"lo":78,"hi":84.5,"src":0.93,"tgt":0.933,"few":1.124},
{"m":"T","b":1.2,"acc":75,"lo":72,"hi":78,"src":1.0,"tgt":1.006,"few":0.915},
{"m":"T","b":1.3,"acc":73,"lo":70,"hi":76,"src":1.17,"tgt":1.17,"few":1.36},
{"m":"T","b":1.4,"acc":72,"lo":69,"hi":75,"src":1.16,"tgt":1.161,"few":1.024},
{"m":"T","b":1.5,"acc":71,"lo":68,"hi":74,"src":1.26,"tgt":1.26,"few":1.297},
{"m":"T","b":1.6,"acc":67.5,"lo":64,"hi":71,"src":1.57,"tgt":1.569,"few":1.687},
{"m":"T","b":1.7,"acc":68.5,"lo":65,"hi":72,"src":null,"tgt":null,"few":null},
{"m":"T","b":1.8,"acc":65.5,"lo":62,"hi":69,"src":null,"tgt":null,"few":null},
{"m":"T","b":1.9,"acc":60.5,"lo":57,"hi":64,"src":null,"tgt":null,"few":null}
]
},
"vconcat": [
{
 "spacing": 7,
 "title": {"text": "(a) Methods Sinkhorn and Sinkhorn+HoMMₚ₌₃.", "orient": "bottom", "anchor": "middle", "offset": 24},
 "hconcat": [
  {
   "width": 326, "height": 215,
   "data": {"name": "a1"},
   "encoding": {"x": {"field": "b", "type": "quantitative", "title": "Noise 𝑏", "scale": {"domain": [-0.09, 1.99], "nice": false, "zero": false}, "axis": {"values": [0,0.1,0.2,0.3,0.4,0.5,0.6,0.7,0.8,0.9,1,1.1,1.2,1.3,1.4,1.5,1.6,1.7,1.8,1.9], "format": ".1f", "labelAngle": -90, "labelOverlap": false, "labelBound": false}}},
   "layer": [
    {"encoding": {"color": {"field": "m", "type": "nominal", "scale": {"domain": ["S","H"], "range": ["#1f77b4","#ff7f0e"]}, "legend": null}},
     "layer": [
      {"mark": {"type": "area", "opacity": 0.28}, "encoding": {"y": {"field": "lo", "type": "quantitative", "title": "Accuracy/F1 [%]", "scale": {"domain": [0,100], "nice": false}, "axis": {"values": [0,20,40,60,80,100]}}, "y2": {"field": "hi"}}},
      {"mark": {"type": "line", "strokeWidth": 2}, "encoding": {"y": {"field": "acc", "type": "quantitative", "title": "Accuracy/F1 [%]"}}},
      {"mark": {"type": "line", "strokeWidth": 2, "strokeDash": [7,3]}, "encoding": {"y": {"field": "f1", "type": "quantitative", "title": "Accuracy/F1 [%]"}}}
     ]},
    {"transform": [{"fold": ["src","tgt","few"], "as": ["rk","rv"]}],
     "encoding": {"color": {"field": "m", "type": "nominal", "scale": {"domain": ["S","H"], "range": ["#1f77b4","#ff7f0e"]}, "legend": null},
      "y": {"field": "rv", "type": "quantitative", "title": "Risks [score]", "scale": {"domain": [-0.03, 6.69], "nice": false, "zero": false}, "axis": {"orient": "right", "values": [0,1,2,3,4,5,6], "titleAngle": 270, "titleBaseline": "top"}}},
     "layer": [
      {"mark": {"type": "line", "strokeWidth": 1.3, "strokeDash": [8,2.5,1.5,2.5]}, "encoding": {"detail": {"field": "rk"}}},
      {"transform": [{"filter": "datum.rk=='few'"}], "mark": {"type": "circle", "size": 32, "opacity": 1}},
      {"transform": [{"filter": "datum.rk=='tgt'"}], "mark": {"type": "point", "shape": "M-1,-1L1,1M-1,1L1,-1", "size": 22, "strokeWidth": 1.3, "opacity": 1}},
      {"transform": [{"filter": "datum.rk=='src'"}], "mark": {"type": "point", "shape": "M0,-1V1M-1,0H1", "size": 22, "strokeWidth": 1.3, "opacity": 1}}
     ]}
   ],
   "resolve": {"scale": {"y": "independent", "color": "independent"}}
  },
  {
   "width": 320, "height": 215,
   "data": {"name": "a2"},
   "encoding": {"x": {"field": "b", "type": "quantitative", "title": "Noise 𝑏", "scale": {"domain": [-0.09, 1.99], "nice": false, "zero": false}, "axis": {"values": [0,0.1,0.2,0.3,0.4,0.5,0.6,0.7,0.8,0.9,1,1.1,1.2,1.3,1.4,1.5,1.6,1.7,1.8,1.9], "format": ".1f", "labelAngle": -90, "labelOverlap": false, "labelBound": false}}},
   "layer": [
    {"encoding": {"color": {"field": "m", "type": "nominal", "scale": {"domain": ["S","H"], "range": ["#1f77b4","#ff7f0e"]}, "legend": null}},
     "layer": [
      {"mark": {"type": "area", "opacity": 0.28}, "encoding": {"y": {"field": "lo", "type": "quantitative", "title": "Accuracy/F1 [%]", "scale": {"domain": [0,100], "nice": false}, "axis": {"values": [0,20,40,60,80,100]}}, "y2": {"field": "hi"}}},
      {"mark": {"type": "line", "strokeWidth": 2}, "encoding": {"y": {"field": "acc", "type": "quantitative", "title": "Accuracy/F1 [%]"}}},
      {"mark": {"type": "line", "strokeWidth": 2, "strokeDash": [7,3]}, "encoding": {"y": {"field": "f1", "type": "quantitative", "title": "Accuracy/F1 [%]"}}}
     ]},
    {"transform": [{"fold": ["src","tgt","few"], "as": ["rk","rv"]}],
     "encoding": {"color": {"field": "m", "type": "nominal", "scale": {"domain": ["S","H"], "range": ["#1f77b4","#ff7f0e"]}, "legend": null},
      "y": {"field": "rv", "type": "quantitative", "title": "Risks [score]", "scale": {"domain": [0.96, 10.49], "nice": false, "zero": false}, "axis": {"orient": "right", "values": [2,4,6,8,10], "titleAngle": 270, "titleBaseline": "top"}}},
     "layer": [
      {"mark": {"type": "line", "strokeWidth": 1.3, "strokeDash": [8,2.5,1.5,2.5]}, "encoding": {"detail": {"field": "rk"}}},
      {"transform": [{"filter": "datum.rk=='few'"}], "mark": {"type": "circle", "size": 32, "opacity": 1}},
      {"transform": [{"filter": "datum.rk=='tgt'"}], "mark": {"type": "point", "shape": "M-1,-1L1,1M-1,1L1,-1", "size": 22, "strokeWidth": 1.3, "opacity": 1}},
      {"transform": [{"filter": "datum.rk=='src'"}], "mark": {"type": "point", "shape": "M0,-1V1M-1,0H1", "size": 22, "strokeWidth": 1.3, "opacity": 1}}
     ]},
    {"data": {"values": [{"lab": "Accuracy", "v": 0, "b": 0}]}, "transform": [{"filter": "false"}],
     "mark": {"type": "line"},
     "encoding": {"y": {"field": "v", "type": "quantitative", "axis": null, "scale": {"domain": [0,1]}},
      "color": {"field": "lab", "type": "nominal", "scale": {"domain": ["Accuracy","F1","Sinkhorn","Sinkhorn+HoMM"], "range": ["black","black","#1f77b4","#ff7f0e"]}, "legend": {"orient": "top-left", "title": null, "symbolType": "stroke", "symbolSize": 729, "symbolStrokeWidth": 2.5, "clipHeight": 14, "labelFontSize": 11.5, "fillColor": "white", "strokeColor": "#cccccc", "cornerRadius": 4, "padding": 5, "offset": 5, "rowPadding": 3.5, "labelOffset": 9}},
      "strokeDash": {"field": "lab", "type": "nominal", "scale": {"domain": ["Accuracy","F1","Sinkhorn","Sinkhorn+HoMM"], "range": [[1,0],[6,3],[1,0],[1,0]]}, "legend": {"orient": "top-left", "title": null, "symbolType": "stroke", "symbolSize": 729, "symbolStrokeWidth": 2.5, "clipHeight": 14, "labelFontSize": 11.5, "fillColor": "white", "strokeColor": "#cccccc", "cornerRadius": 4, "padding": 5, "offset": 5, "rowPadding": 3.5, "labelOffset": 9}}}},
    {"data": {"values": [{"rk2": "Source risk", "v": 0, "b": 0}]}, "transform": [{"filter": "false"}],
     "mark": {"type": "point", "filled": true, "color": "black", "opacity": 1},
     "encoding": {"y": {"field": "v", "type": "quantitative", "axis": null, "scale": {"domain": [0,1]}},
      "shape": {"field": "rk2", "type": "nominal", "scale": {"domain": ["Source risk","Target risk","Few-shot risk"], "range": ["M-1,-0.09H1V0.09H-1ZM-0.06,-0.4H0.06V0.4H-0.06Z", "M-1,-0.09H1V0.09H-1ZM-0.34,-0.26L-0.26,-0.34L0.34,0.26L0.26,0.34ZM-0.34,0.26L0.26,-0.34L0.34,-0.26L-0.26,0.34Z", "M-1,-0.09H1V0.09H-1ZM0.3,0A0.3,0.3 0 1 1 -0.3,0A0.3,0.3 0 1 1 0.3,0Z"]}, "legend": {"orient": "top-right", "title": null, "symbolSize": 324, "symbolStrokeWidth": 0, "symbolFillColor": "black", "clipHeight": 14, "labelFontSize": 11.5, "fillColor": "white", "strokeColor": "#cccccc", "cornerRadius": 4, "padding": 5, "offset": 5, "rowPadding": 3.5, "labelOffset": 14}}}}
   ],
   "resolve": {"scale": {"y": "independent", "color": "independent", "strokeDash": "independent", "shape": "independent"}}
  },
  {
   "width": 316, "height": 215,
   "data": {"name": "a3"},
   "encoding": {"x": {"field": "b", "type": "quantitative", "title": "Noise 𝑏", "scale": {"domain": [-0.09, 1.99], "nice": false, "zero": false}, "axis": {"values": [0,0.1,0.2,0.3,0.4,0.5,0.6,0.7,0.8,0.9,1,1.1,1.2,1.3,1.4,1.5,1.6,1.7,1.8,1.9], "format": ".1f", "labelAngle": -90, "labelOverlap": false, "labelBound": false}}},
   "layer": [
    {"encoding": {"color": {"field": "m", "type": "nominal", "scale": {"domain": ["S","H"], "range": ["#1f77b4","#ff7f0e"]}, "legend": null}},
     "layer": [
      {"mark": {"type": "area", "opacity": 0.28}, "encoding": {"y": {"field": "lo", "type": "quantitative", "title": "Accuracy/F1 [%]", "scale": {"domain": [0,100], "nice": false}, "axis": {"values": [0,20,40,60,80,100]}}, "y2": {"field": "hi"}}},
      {"mark": {"type": "line", "strokeWidth": 2}, "encoding": {"y": {"field": "acc", "type": "quantitative", "title": "Accuracy/F1 [%]"}}}
     ]},
    {"transform": [{"fold": ["src","tgt","few"], "as": ["rk","rv"]}],
     "encoding": {"color": {"field": "m", "type": "nominal", "scale": {"domain": ["S","H"], "range": ["#1f77b4","#ff7f0e"]}, "legend": null},
      "y": {"field": "rv", "type": "quantitative", "title": "Risks [score]", "scale": {"domain": [-0.013, 1.696], "nice": false, "zero": false}, "axis": {"orient": "right", "values": [0,0.2,0.4,0.6,0.8,1,1.2,1.4,1.6], "format": ".1f", "titleAngle": 270, "titleBaseline": "top"}}},
     "layer": [
      {"mark": {"type": "line", "strokeWidth": 1.3, "strokeDash": [8,2.5,1.5,2.5]}, "encoding": {"detail": {"field": "rk"}}},
      {"transform": [{"filter": "datum.rk=='few'"}], "mark": {"type": "circle", "size": 32, "opacity": 1}},
      {"transform": [{"filter": "datum.rk=='tgt'"}], "mark": {"type": "point", "shape": "M-1,-1L1,1M-1,1L1,-1", "size": 22, "strokeWidth": 1.3, "opacity": 1}},
      {"transform": [{"filter": "datum.rk=='src'"}], "mark": {"type": "point", "shape": "M0,-1V1M-1,0H1", "size": 22, "strokeWidth": 1.3, "opacity": 1}}
     ]}
   ],
   "resolve": {"scale": {"y": "independent", "color": "independent"}}
  }
 ]
},
{
 "spacing": 7,
 "title": {"text": "(b) Methods Sinkhorn+linear MMD and Sinkhorn+kMMD.", "orient": "bottom", "anchor": "middle", "offset": 24},
 "hconcat": [
  {
   "width": 326, "height": 215,
   "data": {"name": "b1"},
   "encoding": {"x": {"field": "b", "type": "quantitative", "title": "Noise 𝑏", "scale": {"domain": [-0.09, 1.99], "nice": false, "zero": false}, "axis": {"values": [0,0.1,0.2,0.3,0.4,0.5,0.6,0.7,0.8,0.9,1,1.1,1.2,1.3,1.4,1.5,1.6,1.7,1.8,1.9], "format": ".1f", "labelAngle": -90, "labelOverlap": false, "labelBound": false}}},
   "layer": [
    {"encoding": {"color": {"field": "m", "type": "nominal", "scale": {"domain": ["L","K"], "range": ["#1f77b4","#ff7f0e"]}, "legend": null}},
     "layer": [
      {"mark": {"type": "area", "opacity": 0.28}, "encoding": {"y": {"field": "lo", "type": "quantitative", "title": "Accuracy/F1 [%]", "scale": {"domain": [0,100], "nice": false}, "axis": {"values": [0,20,40,60,80,100]}}, "y2": {"field": "hi"}}},
      {"mark": {"type": "line", "strokeWidth": 2}, "encoding": {"y": {"field": "acc", "type": "quantitative", "title": "Accuracy/F1 [%]"}}},
      {"mark": {"type": "line", "strokeWidth": 2, "strokeDash": [7,3]}, "encoding": {"y": {"field": "f1", "type": "quantitative", "title": "Accuracy/F1 [%]"}}}
     ]},
    {"transform": [{"fold": ["src","tgt","few"], "as": ["rk","rv"]}],
     "encoding": {"color": {"field": "m", "type": "nominal", "scale": {"domain": ["L","K"], "range": ["#1f77b4","#ff7f0e"]}, "legend": null},
      "y": {"field": "rv", "type": "quantitative", "title": "Risks [score]", "scale": {"domain": [-0.05, 6.62], "nice": false, "zero": false}, "axis": {"orient": "right", "values": [0,1,2,3,4,5,6], "titleAngle": 270, "titleBaseline": "top"}}},
     "layer": [
      {"mark": {"type": "line", "strokeWidth": 1.3, "strokeDash": [8,2.5,1.5,2.5]}, "encoding": {"detail": {"field": "rk"}}},
      {"transform": [{"filter": "datum.rk=='few'"}], "mark": {"type": "circle", "size": 32, "opacity": 1}},
      {"transform": [{"filter": "datum.rk=='tgt'"}], "mark": {"type": "point", "shape": "M-1,-1L1,1M-1,1L1,-1", "size": 22, "strokeWidth": 1.3, "opacity": 1}},
      {"transform": [{"filter": "datum.rk=='src'"}], "mark": {"type": "point", "shape": "M0,-1V1M-1,0H1", "size": 22, "strokeWidth": 1.3, "opacity": 1}}
     ]}
   ],
   "resolve": {"scale": {"y": "independent", "color": "independent"}}
  },
  {
   "width": 320, "height": 215,
   "data": {"name": "b2"},
   "encoding": {"x": {"field": "b", "type": "quantitative", "title": "Noise 𝑏", "scale": {"domain": [-0.09, 1.99], "nice": false, "zero": false}, "axis": {"values": [0,0.1,0.2,0.3,0.4,0.5,0.6,0.7,0.8,0.9,1,1.1,1.2,1.3,1.4,1.5,1.6,1.7,1.8,1.9], "format": ".1f", "labelAngle": -90, "labelOverlap": false, "labelBound": false}}},
   "layer": [
    {"encoding": {"color": {"field": "m", "type": "nominal", "scale": {"domain": ["L","K"], "range": ["#1f77b4","#ff7f0e"]}, "legend": null}},
     "layer": [
      {"mark": {"type": "area", "opacity": 0.28}, "encoding": {"y": {"field": "lo", "type": "quantitative", "title": "Accuracy/F1 [%]", "scale": {"domain": [0,100], "nice": false}, "axis": {"values": [0,20,40,60,80,100]}}, "y2": {"field": "hi"}}},
      {"mark": {"type": "line", "strokeWidth": 2}, "encoding": {"y": {"field": "acc", "type": "quantitative", "title": "Accuracy/F1 [%]"}}},
      {"mark": {"type": "line", "strokeWidth": 2, "strokeDash": [7,3]}, "encoding": {"y": {"field": "f1", "type": "quantitative", "title": "Accuracy/F1 [%]"}}}
     ]},
    {"transform": [{"fold": ["src","tgt","few"], "as": ["rk","rv"]}],
     "encoding": {"color": {"field": "m", "type": "nominal", "scale": {"domain": ["L","K"], "range": ["#1f77b4","#ff7f0e"]}, "legend": null},
      "y": {"field": "rv", "type": "quantitative", "title": "Risks [score]", "scale": {"domain": [0.98, 10.36], "nice": false, "zero": false}, "axis": {"orient": "right", "values": [2,4,6,8,10], "titleAngle": 270, "titleBaseline": "top"}}},
     "layer": [
      {"mark": {"type": "line", "strokeWidth": 1.3, "strokeDash": [8,2.5,1.5,2.5]}, "encoding": {"detail": {"field": "rk"}}},
      {"transform": [{"filter": "datum.rk=='few'"}], "mark": {"type": "circle", "size": 32, "opacity": 1}},
      {"transform": [{"filter": "datum.rk=='tgt'"}], "mark": {"type": "point", "shape": "M-1,-1L1,1M-1,1L1,-1", "size": 22, "strokeWidth": 1.3, "opacity": 1}},
      {"transform": [{"filter": "datum.rk=='src'"}], "mark": {"type": "point", "shape": "M0,-1V1M-1,0H1", "size": 22, "strokeWidth": 1.3, "opacity": 1}}
     ]},
    {"data": {"values": [{"lab": "Accuracy", "v": 0, "b": 0}]}, "transform": [{"filter": "false"}],
     "mark": {"type": "line"},
     "encoding": {"y": {"field": "v", "type": "quantitative", "axis": null, "scale": {"domain": [0,1]}},
      "color": {"field": "lab", "type": "nominal", "scale": {"domain": ["Accuracy","F1","Sinkhorn+linear MMD","Sinkhorn+kMMD"], "range": ["black","black","#1f77b4","#ff7f0e"]}, "legend": {"orient": "top-left", "title": null, "symbolType": "stroke", "symbolSize": 729, "symbolStrokeWidth": 2.5, "clipHeight": 14, "labelFontSize": 11.5, "fillColor": "white", "strokeColor": "#cccccc", "cornerRadius": 4, "padding": 5, "offset": 5, "rowPadding": 3.5, "labelOffset": 9}},
      "strokeDash": {"field": "lab", "type": "nominal", "scale": {"domain": ["Accuracy","F1","Sinkhorn+linear MMD","Sinkhorn+kMMD"], "range": [[1,0],[6,3],[1,0],[1,0]]}, "legend": {"orient": "top-left", "title": null, "symbolType": "stroke", "symbolSize": 729, "symbolStrokeWidth": 2.5, "clipHeight": 14, "labelFontSize": 11.5, "fillColor": "white", "strokeColor": "#cccccc", "cornerRadius": 4, "padding": 5, "offset": 5, "rowPadding": 3.5, "labelOffset": 9}}}},
    {"data": {"values": [{"rk2": "Source risk", "v": 0, "b": 0}]}, "transform": [{"filter": "false"}],
     "mark": {"type": "point", "filled": true, "color": "black", "opacity": 1},
     "encoding": {"y": {"field": "v", "type": "quantitative", "axis": null, "scale": {"domain": [0,1]}},
      "shape": {"field": "rk2", "type": "nominal", "scale": {"domain": ["Source risk","Target risk","Few-shot risk"], "range": ["M-1,-0.09H1V0.09H-1ZM-0.06,-0.4H0.06V0.4H-0.06Z", "M-1,-0.09H1V0.09H-1ZM-0.34,-0.26L-0.26,-0.34L0.34,0.26L0.26,0.34ZM-0.34,0.26L0.26,-0.34L0.34,-0.26L-0.26,0.34Z", "M-1,-0.09H1V0.09H-1ZM0.3,0A0.3,0.3 0 1 1 -0.3,0A0.3,0.3 0 1 1 0.3,0Z"]}, "legend": {"orient": "top-right", "title": null, "symbolSize": 324, "symbolStrokeWidth": 0, "symbolFillColor": "black", "clipHeight": 14, "labelFontSize": 11.5, "fillColor": "white", "strokeColor": "#cccccc", "cornerRadius": 4, "padding": 5, "offset": 5, "rowPadding": 3.5, "labelOffset": 14}}}}
   ],
   "resolve": {"scale": {"y": "independent", "color": "independent", "strokeDash": "independent", "shape": "independent"}}
  },
  {
   "width": 316, "height": 215,
   "data": {"name": "b3"},
   "encoding": {"x": {"field": "b", "type": "quantitative", "title": "Noise 𝑏", "scale": {"domain": [-0.09, 1.99], "nice": false, "zero": false}, "axis": {"values": [0,0.1,0.2,0.3,0.4,0.5,0.6,0.7,0.8,0.9,1,1.1,1.2,1.3,1.4,1.5,1.6,1.7,1.8,1.9], "format": ".1f", "labelAngle": -90, "labelOverlap": false, "labelBound": false}}},
   "layer": [
    {"encoding": {"color": {"field": "m", "type": "nominal", "scale": {"domain": ["L","K"], "range": ["#1f77b4","#ff7f0e"]}, "legend": null}},
     "layer": [
      {"mark": {"type": "area", "opacity": 0.28}, "encoding": {"y": {"field": "lo", "type": "quantitative", "title": "Accuracy/F1 [%]", "scale": {"domain": [0,100], "nice": false}, "axis": {"values": [0,20,40,60,80,100]}}, "y2": {"field": "hi"}}},
      {"mark": {"type": "line", "strokeWidth": 2}, "encoding": {"y": {"field": "acc", "type": "quantitative", "title": "Accuracy/F1 [%]"}}}
     ]},
    {"transform": [{"fold": ["src","tgt","few"], "as": ["rk","rv"]}],
     "encoding": {"color": {"field": "m", "type": "nominal", "scale": {"domain": ["L","K"], "range": ["#1f77b4","#ff7f0e"]}, "legend": null},
      "y": {"field": "rv", "type": "quantitative", "title": "Risks [score]", "scale": {"domain": [-0.02, 1.58], "nice": false, "zero": false}, "axis": {"orient": "right", "values": [0,0.2,0.4,0.6,0.8,1,1.2,1.4], "format": ".1f", "titleAngle": 270, "titleBaseline": "top"}}},
     "layer": [
      {"mark": {"type": "line", "strokeWidth": 1.3, "strokeDash": [8,2.5,1.5,2.5]}, "encoding": {"detail": {"field": "rk"}}},
      {"transform": [{"filter": "datum.rk=='few'"}], "mark": {"type": "circle", "size": 32, "opacity": 1}},
      {"transform": [{"filter": "datum.rk=='tgt'"}], "mark": {"type": "point", "shape": "M-1,-1L1,1M-1,1L1,-1", "size": 22, "strokeWidth": 1.3, "opacity": 1}},
      {"transform": [{"filter": "datum.rk=='src'"}], "mark": {"type": "point", "shape": "M0,-1V1M-1,0H1", "size": 22, "strokeWidth": 1.3, "opacity": 1}}
     ]}
   ],
   "resolve": {"scale": {"y": "independent", "color": "independent"}}
  }
 ]
},
{
 "spacing": 7,
 "title": {"text": "(c) Methods Sinkhorn+Deep CORAL, Sinkhorn+Jeffreys CORAL, and Sinkhorn+Stein CORAL.", "orient": "bottom", "anchor": "middle", "offset": 24},
 "hconcat": [
  {
   "width": 326, "height": 215,
   "data": {"name": "c1"},
   "encoding": {"x": {"field": "b", "type": "quantitative", "title": "Noise 𝑏", "scale": {"domain": [-0.09, 1.99], "nice": false, "zero": false}, "axis": {"values": [0,0.1,0.2,0.3,0.4,0.5,0.6,0.7,0.8,0.9,1,1.1,1.2,1.3,1.4,1.5,1.6,1.7,1.8,1.9], "format": ".1f", "labelAngle": -90, "labelOverlap": false, "labelBound": false}}},
   "layer": [
    {"encoding": {"color": {"field": "m", "type": "nominal", "scale": {"domain": ["D","J","T"], "range": ["#1f77b4","#ff7f0e","#2ca02c"]}, "legend": null}},
     "layer": [
      {"mark": {"type": "area", "opacity": 0.22}, "encoding": {"y": {"field": "lo", "type": "quantitative", "title": "Accuracy/F1 [%]", "scale": {"domain": [0,100], "nice": false}, "axis": {"values": [0,20,40,60,80,100]}}, "y2": {"field": "hi"}}},
      {"mark": {"type": "line", "strokeWidth": 2}, "encoding": {"y": {"field": "acc", "type": "quantitative", "title": "Accuracy/F1 [%]"}}},
      {"mark": {"type": "line", "strokeWidth": 2, "strokeDash": [7,3]}, "encoding": {"y": {"field": "f1", "type": "quantitative", "title": "Accuracy/F1 [%]"}}}
     ]},
    {"transform": [{"fold": ["src","tgt","few"], "as": ["rk","rv"]}],
     "encoding": {"color": {"field": "m", "type": "nominal", "scale": {"domain": ["D","J","T"], "range": ["#1f77b4","#ff7f0e","#2ca02c"]}, "legend": null},
      "y": {"field": "rv", "type": "quantitative", "title": "Risks [score]", "scale": {"domain": [0.05, 6.6], "nice": false, "zero": false}, "axis": {"orient": "right", "values": [1,2,3,4,5,6], "titleAngle": 270, "titleBaseline": "top"}}},
     "layer": [
      {"mark": {"type": "line", "strokeWidth": 1.3, "strokeDash": [8,2.5,1.5,2.5]}, "encoding": {"detail": {"field": "rk"}}},
      {"transform": [{"filter": "datum.rk=='few'"}], "mark": {"type": "circle", "size": 32, "opacity": 1}},
      {"transform": [{"filter": "datum.rk=='tgt'"}], "mark": {"type": "point", "shape": "M-1,-1L1,1M-1,1L1,-1", "size": 22, "strokeWidth": 1.3, "opacity": 1}},
      {"transform": [{"filter": "datum.rk=='src'"}], "mark": {"type": "point", "shape": "M0,-1V1M-1,0H1", "size": 22, "strokeWidth": 1.3, "opacity": 1}}
     ]}
   ],
   "resolve": {"scale": {"y": "independent", "color": "independent"}}
  },
  {
   "width": 320, "height": 215,
   "data": {"name": "c2"},
   "encoding": {"x": {"field": "b", "type": "quantitative", "title": "Noise 𝑏", "scale": {"domain": [-0.09, 1.99], "nice": false, "zero": false}, "axis": {"values": [0,0.1,0.2,0.3,0.4,0.5,0.6,0.7,0.8,0.9,1,1.1,1.2,1.3,1.4,1.5,1.6,1.7,1.8,1.9], "format": ".1f", "labelAngle": -90, "labelOverlap": false, "labelBound": false}}},
   "layer": [
    {"encoding": {"color": {"field": "m", "type": "nominal", "scale": {"domain": ["D","J","T"], "range": ["#1f77b4","#ff7f0e","#2ca02c"]}, "legend": null}},
     "layer": [
      {"mark": {"type": "area", "opacity": 0.22}, "encoding": {"y": {"field": "lo", "type": "quantitative", "title": "Accuracy/F1 [%]", "scale": {"domain": [0,100], "nice": false}, "axis": {"values": [0,20,40,60,80,100]}}, "y2": {"field": "hi"}}},
      {"mark": {"type": "line", "strokeWidth": 2}, "encoding": {"y": {"field": "acc", "type": "quantitative", "title": "Accuracy/F1 [%]"}}},
      {"mark": {"type": "line", "strokeWidth": 2, "strokeDash": [7,3]}, "encoding": {"y": {"field": "f1", "type": "quantitative", "title": "Accuracy/F1 [%]"}}}
     ]},
    {"transform": [{"fold": ["src","tgt","few"], "as": ["rk","rv"]}],
     "encoding": {"color": {"field": "m", "type": "nominal", "scale": {"domain": ["D","J","T"], "range": ["#1f77b4","#ff7f0e","#2ca02c"]}, "legend": null},
      "y": {"field": "rv", "type": "quantitative", "title": "Risks [score]", "scale": {"domain": [1.12, 10.31], "nice": false, "zero": false}, "axis": {"orient": "right", "values": [2,4,6,8,10], "titleAngle": 270, "titleBaseline": "top"}}},
     "layer": [
      {"mark": {"type": "line", "strokeWidth": 1.3, "strokeDash": [8,2.5,1.5,2.5]}, "encoding": {"detail": {"field": "rk"}}},
      {"transform": [{"filter": "datum.rk=='few'"}], "mark": {"type": "circle", "size": 32, "opacity": 1}},
      {"transform": [{"filter": "datum.rk=='tgt'"}], "mark": {"type": "point", "shape": "M-1,-1L1,1M-1,1L1,-1", "size": 22, "strokeWidth": 1.3, "opacity": 1}},
      {"transform": [{"filter": "datum.rk=='src'"}], "mark": {"type": "point", "shape": "M0,-1V1M-1,0H1", "size": 22, "strokeWidth": 1.3, "opacity": 1}}
     ]},
    {"data": {"values": [{"lab": "Accuracy", "v": 0, "b": 0}]}, "transform": [{"filter": "false"}],
     "mark": {"type": "line"},
     "encoding": {"y": {"field": "v", "type": "quantitative", "axis": null, "scale": {"domain": [0,1]}},
      "color": {"field": "lab", "type": "nominal", "scale": {"domain": ["Accuracy","F1","Sinkhorn+Deep CORAL","Sinkhorn+Jeffreys CORAL","Sinkhorn+Stein CORAL"], "range": ["black","black","#1f77b4","#ff7f0e","#2ca02c"]}, "legend": {"orient": "top-left", "title": null, "symbolType": "stroke", "symbolSize": 729, "symbolStrokeWidth": 2.5, "clipHeight": 14, "labelFontSize": 11.5, "fillColor": "white", "strokeColor": "#cccccc", "cornerRadius": 4, "padding": 5, "offset": 5, "rowPadding": 3.5, "labelOffset": 9}},
      "strokeDash": {"field": "lab", "type": "nominal", "scale": {"domain": ["Accuracy","F1","Sinkhorn+Deep CORAL","Sinkhorn+Jeffreys CORAL","Sinkhorn+Stein CORAL"], "range": [[1,0],[6,3],[1,0],[1,0],[1,0]]}, "legend": {"orient": "top-left", "title": null, "symbolType": "stroke", "symbolSize": 729, "symbolStrokeWidth": 2.5, "clipHeight": 14, "labelFontSize": 11.5, "fillColor": "white", "strokeColor": "#cccccc", "cornerRadius": 4, "padding": 5, "offset": 5, "rowPadding": 3.5, "labelOffset": 9}}}},
    {"data": {"values": [{"rk2": "Source risk", "v": 0, "b": 0}]}, "transform": [{"filter": "false"}],
     "mark": {"type": "point", "filled": true, "color": "black", "opacity": 1},
     "encoding": {"y": {"field": "v", "type": "quantitative", "axis": null, "scale": {"domain": [0,1]}},
      "shape": {"field": "rk2", "type": "nominal", "scale": {"domain": ["Source risk","Target risk","Few-shot risk"], "range": ["M-1,-0.09H1V0.09H-1ZM-0.06,-0.4H0.06V0.4H-0.06Z", "M-1,-0.09H1V0.09H-1ZM-0.34,-0.26L-0.26,-0.34L0.34,0.26L0.26,0.34ZM-0.34,0.26L0.26,-0.34L0.34,-0.26L-0.26,0.34Z", "M-1,-0.09H1V0.09H-1ZM0.3,0A0.3,0.3 0 1 1 -0.3,0A0.3,0.3 0 1 1 0.3,0Z"]}, "legend": {"orient": "top-right", "title": null, "symbolSize": 324, "symbolStrokeWidth": 0, "symbolFillColor": "black", "clipHeight": 14, "labelFontSize": 11.5, "fillColor": "white", "strokeColor": "#cccccc", "cornerRadius": 4, "padding": 5, "offset": 5, "rowPadding": 3.5, "labelOffset": 14}}}}
   ],
   "resolve": {"scale": {"y": "independent", "color": "independent", "strokeDash": "independent", "shape": "independent"}}
  },
  {
   "width": 316, "height": 215,
   "data": {"name": "c3"},
   "encoding": {"x": {"field": "b", "type": "quantitative", "title": "Noise 𝑏", "scale": {"domain": [-0.09, 1.99], "nice": false, "zero": false}, "axis": {"values": [0,0.1,0.2,0.3,0.4,0.5,0.6,0.7,0.8,0.9,1,1.1,1.2,1.3,1.4,1.5,1.6,1.7,1.8,1.9], "format": ".1f", "labelAngle": -90, "labelOverlap": false, "labelBound": false}}},
   "layer": [
    {"encoding": {"color": {"field": "m", "type": "nominal", "scale": {"domain": ["D","J","T"], "range": ["#1f77b4","#ff7f0e","#2ca02c"]}, "legend": null}},
     "layer": [
      {"mark": {"type": "area", "opacity": 0.22}, "encoding": {"y": {"field": "lo", "type": "quantitative", "title": "Accuracy/F1 [%]", "scale": {"domain": [0,100], "nice": false}, "axis": {"values": [0,20,40,60,80,100]}}, "y2": {"field": "hi"}}},
      {"mark": {"type": "line", "strokeWidth": 2}, "encoding": {"y": {"field": "acc", "type": "quantitative", "title": "Accuracy/F1 [%]"}}}
     ]},
    {"transform": [{"fold": ["src","tgt","few"], "as": ["rk","rv"]}],
     "encoding": {"color": {"field": "m", "type": "nominal", "scale": {"domain": ["D","J","T"], "range": ["#1f77b4","#ff7f0e","#2ca02c"]}, "legend": null},
      "y": {"field": "rv", "type": "quantitative", "title": "Risks [score]", "scale": {"domain": [-0.048, 1.77], "nice": false, "zero": false}, "axis": {"orient": "right", "values": [0,0.25,0.5,0.75,1,1.25,1.5,1.75], "format": ".2f", "titleAngle": 270, "titleBaseline": "top"}}},
     "layer": [
      {"mark": {"type": "line", "strokeWidth": 1.3, "strokeDash": [8,2.5,1.5,2.5]}, "encoding": {"detail": {"field": "rk"}}},
      {"transform": [{"filter": "datum.rk=='few'"}], "mark": {"type": "circle", "size": 32, "opacity": 1}},
      {"transform": [{"filter": "datum.rk=='tgt'"}], "mark": {"type": "point", "shape": "M-1,-1L1,1M-1,1L1,-1", "size": 22, "strokeWidth": 1.3, "opacity": 1}},
      {"transform": [{"filter": "datum.rk=='src'"}], "mark": {"type": "point", "shape": "M0,-1V1M-1,0H1", "size": 22, "strokeWidth": 1.3, "opacity": 1}}
     ]}
   ],
   "resolve": {"scale": {"y": "independent", "color": "independent"}}
  }
 ]
}
]
}
